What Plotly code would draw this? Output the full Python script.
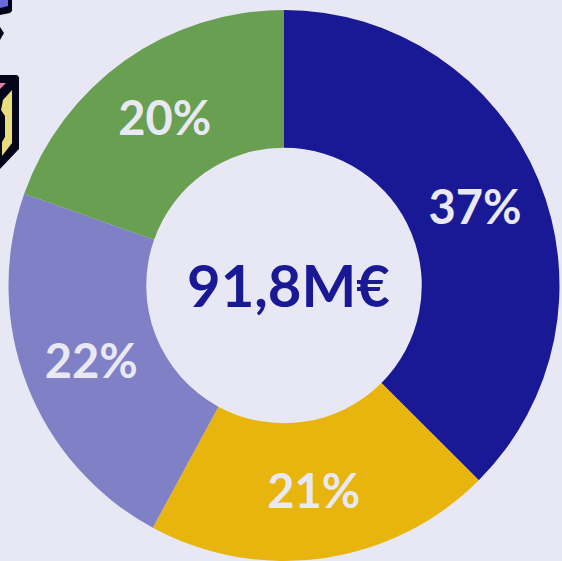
import plotly.graph_objects as go

labels = ["A", "B", "C", "D"]
values = [37.5, 20.4, 22.5, 19.6]
texts = ["<b>37%</b>", "<b>21%</b>", "<b>22%</b>", "<b>20%</b>"]
colors = ["#191996", "#E8B50E", "#8080C6", "#699F50"]
center = "91,8M€"
W, H = 562, 561

fig = go.Figure(go.Pie(
    labels=labels, values=values, text=texts, textinfo="text",
    hole=0.5, sort=False, direction="clockwise", rotation=0,
    marker=dict(colors=colors, line=dict(width=0)),
    textposition="inside", insidetextorientation="horizontal",
    textfont=dict(family="Lato, Open Sans", size=47, color="#E9E9F5"),
    showlegend=False,
    domain=dict(x=[8/W, 560/W], y=[0, 551/H]),
))
fig.add_annotation(text=f"<b>{center}</b>", x=288/W, y=1-284/H, xref="paper", yref="paper",
                   showarrow=False, font=dict(family="Lato, Open Sans", size=58, color="#191996"))
fig.update_layout(width=W, height=H, margin=dict(l=0, r=0, t=0, b=0),
                  paper_bgcolor="#E8E8F5", plot_bgcolor="#E8E8F5")

def shape(points, fill):
    xs = [x/W for x, _ in points]; ys = [1-y/H for _, y in points]
    path = "M" + " L".join(f"{x:.4f},{y:.4f}" for x, y in zip(xs, ys)) + " Z"
    fig.add_shape(type="path", path=path, xref="paper", yref="paper", fillcolor=fill,
                  line=dict(width=0), layer="above")

black = "#05051A"
shape([(0,0),(12,0),(12,11),(10,13),(0,15)], black)
shape([(0,0),(8,0),(8,6),(0,8)], "#6A6AE0")
shape([(0,27),(4,33),(0,40)], black)
shape([(0,75),(17,75),(19,77),(19,149),(0,169)], black)
shape([(0,83),(6,83),(0,89)], "#E878B8")
shape([(12,90),(12,143),(2,156),(2,142),(5,137),(5,116),(1,110),(3,100)], "#E8DE80")
fig.write_html("out.html", config=dict(displayModeBar=False),
               post_script="document.body.style.margin='0';document.documentElement.style.overflow='hidden';")
